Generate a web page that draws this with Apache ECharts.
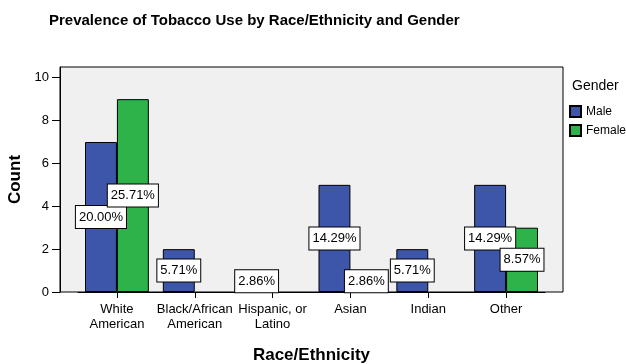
<!DOCTYPE html>
<html>
<head>
<meta charset="utf-8">
<script src="https://cdn.jsdelivr.net/npm/echarts@6/dist/echarts.min.js"></script>
<style>
  html, body { margin: 0; padding: 0; background: #ffffff; }
  #chart { width: 626px; height: 364px; }
</style>
</head>
<body>
<div id="chart"></div>
<script>
// Tobacco use counts by race/ethnicity, split by gender
const categories = [
  'White\nAmerican',
  'Black/African\nAmerican',
  'Hispanic, or\nLatino',
  'Asian',
  'Indian',
  'Other'
];
const maleCounts   = [7, 2, 1, 5, 2, 5];
const femaleCounts = [9, 0, 0, 1, 0, 3];
const malePercent   = ['20.00%', '5.71%', '2.86%', '14.29%', '5.71%', '14.29%'];
const femalePercent = ['25.71%', '', '', '2.86%', '', '8.57%'];
const yTicks = [0, 2, 4, 6, 8, 10];

const FONT = '"Liberation Sans", Arial, sans-serif';

// plot frame (grey panel) and inner data area
const frame = { left: 60, top: 67, right: 563, bottom: 292 };
const inner = { left: 78, right: 545 };

// empty groups get no bar at all
function buildData(values, labels) {
  return values.map((v, i) => ({
    value: v > 0 ? v : null,
    label: { show: v > 0, formatter: labels[i] }
  }));
}

const labelStyle = {
  position: 'inside',
  color: '#000',
  fontFamily: FONT,
  fontSize: 13,
  lineHeight: 15,
  backgroundColor: '#ffffff',
  borderColor: '#000000',
  borderWidth: 1,
  padding: [4, 3, 3, 3]
};

const chart = echarts.init(document.getElementById('chart'), null, { renderer: 'canvas' });

chart.setOption({
  animation: false,
  backgroundColor: '#ffffff',
  title: [
    {
      text: 'Prevalence of Tobacco Use by Race/Ethnicity and Gender',
      left: 49,
      top: 13,
      padding: 0,
      textStyle: { fontFamily: FONT, fontWeight: 'bold', fontSize: 15, color: '#000' }
    },
    {
      text: 'Gender',
      left: 572,
      top: 79,
      padding: 0,
      textStyle: { fontFamily: FONT, fontWeight: 'normal', fontSize: 14, color: '#000' }
    }
  ],
  legend: {
    orient: 'vertical',
    left: 569,
    top: 105,
    padding: 0,
    itemWidth: 11,
    itemHeight: 11,
    itemGap: 6,
    icon: 'rect',
    textStyle: { fontFamily: FONT, fontSize: 12, color: '#000' },
    data: ['Male', 'Female']
  },
  graphic: [
    {
      type: 'rect',
      z: -10,
      silent: true,
      shape: {
        x: frame.left,
        y: frame.top,
        width: frame.right - frame.left,
        height: frame.bottom - frame.top
      },
      style: { fill: '#f0f0f0', stroke: '#000000', lineWidth: 1 }
    }
  ],
  grid: {
    left: inner.left,
    right: 626 - inner.right,
    top: frame.top,
    bottom: 364 - frame.bottom,
    containLabel: false,
    outerBoundsMode: 'none'
  },
  xAxis: {
    type: 'category',
    data: categories,
    name: 'Race/Ethnicity',
    nameLocation: 'middle',
    nameGap: 55,
    nameTextStyle: { fontFamily: FONT, fontWeight: 'bold', fontSize: 17, color: '#000' },
    axisLine: { show: true, lineStyle: { color: '#000', width: 1 } },
    axisTick: { show: true, alignWithLabel: true, length: 6, lineStyle: { color: '#000' } },
    axisLabel: {
      interval: 0,
      margin: 10,
      fontFamily: FONT,
      fontSize: 13,
      lineHeight: 15,
      color: '#000'
    },
    splitLine: { show: false }
  },
  yAxis: {
    type: 'value',
    min: 0,
    max: 10.5,
    interval: 2,
    offset: inner.left - frame.left,
    name: 'Count',
    nameLocation: 'middle',
    nameGap: 33,
    nameTextStyle: { fontFamily: FONT, fontWeight: 'bold', fontSize: 17, color: '#000' },
    axisLine: { show: true, lineStyle: { color: '#000', width: 1 } },
    axisTick: { show: true, length: 8, lineStyle: { color: '#000' }, customValues: yTicks },
    axisLabel: {
      margin: 11,
      fontFamily: FONT,
      fontSize: 13,
      color: '#000',
      customValues: yTicks
    },
    splitLine: { show: false }
  },
  series: [
    {
      name: 'Male',
      type: 'bar',
      data: buildData(maleCounts, malePercent),
      barGap: '0%',
      barCategoryGap: '18%',
      itemStyle: { color: '#3e56a9', borderColor: '#000', borderWidth: 1 },
      label: labelStyle
    },
    {
      name: 'Female',
      type: 'bar',
      data: buildData(femaleCounts, femalePercent),
      barGap: '0%',
      barCategoryGap: '18%',
      itemStyle: { color: '#2db34a', borderColor: '#000', borderWidth: 1 },
      label: labelStyle
    }
  ]
});
</script>
</body>
</html>
